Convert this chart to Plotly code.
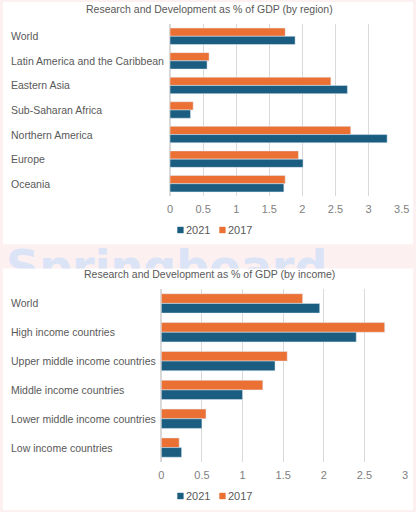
import plotly.graph_objects as go

# ---------------- data ----------------
region_categories = ["World", "Latin America and the Caribbean", "Eastern Asia",
                     "Sub-Saharan Africa", "Northern America", "Europe", "Oceania"]
region_2021 = [1.89, 0.56, 2.68, 0.31, 3.28, 2.01, 1.72]
region_2017 = [1.74, 0.59, 2.43, 0.35, 2.73, 1.94, 1.74]

income_categories = ["World", "High income countries", "Upper middle income countries",
                     "Middle income countries", "Lower middle income countries",
                     "Low income countries"]
income_2021 = [1.95, 2.40, 1.40, 1.00, 0.50, 0.25]
income_2017 = [1.74, 2.75, 1.55, 1.25, 0.55, 0.22]

series_names = ["2021", "2017"]
region_ticks = [0, 0.5, 1, 1.5, 2, 2.5, 3, 3.5]
income_ticks = [0, 0.5, 1, 1.5, 2, 2.5, 3]

title_region = "Research and Development as % of GDP (by region)"
title_income = "Research and Development as % of GDP (by income)"
watermark = "Springboard"

# ---------------- style ----------------
W, H = 416, 512
BLUE = "#1a5d80"
ORANGE = "#ea7034"
GRID = "#d9d9d9"
PINK = "#fcf0f1"
FONT = "Liberation Sans, Arial, sans-serif"

def px(x):
    return x / W

def py(y):
    return 1 - y / H

fig = go.Figure()

# bars: 2017 first so it sits on top within each group (reversed category axis)
fig.add_trace(go.Bar(y=region_categories, x=region_2017, name=series_names[1], orientation="h",
                     marker_color=ORANGE, xaxis="x", yaxis="y", showlegend=False))
fig.add_trace(go.Bar(y=region_categories, x=region_2021, name=series_names[0], orientation="h",
                     marker_color=BLUE, xaxis="x", yaxis="y", showlegend=False))
fig.add_trace(go.Bar(y=income_categories, x=income_2017, name=series_names[1], orientation="h",
                     marker_color=ORANGE, xaxis="x2", yaxis="y2", showlegend=False))
fig.add_trace(go.Bar(y=income_categories, x=income_2021, name=series_names[0], orientation="h",
                     marker_color=BLUE, xaxis="x2", yaxis="y2", showlegend=False))

# watermark, clipped to the gap between the two panels
fig.add_trace(go.Scatter(x=[6], y=[248], mode="text", text=[watermark], textposition="bottom right",
                         textfont=dict(family="DejaVu Sans", size=46, color="#dbe3f7", weight="bold"),
                         cliponaxis=True, xaxis="x3", yaxis="y3", showlegend=False,
                         hoverinfo="skip"))

axis_common = dict(showgrid=True, gridcolor=GRID, gridwidth=1, zeroline=True, zerolinecolor=GRID,
                   showline=False, ticks="", ticklabelstandoff=5, automargin=False,
                   tickfont=dict(family=FONT, size=11, color="#808080"),
                   fixedrange=True)
hidden_y = dict(showticklabels=False, showgrid=False, zeroline=False, automargin=False,
                fixedrange=True)

fig.update_layout(
    width=W, height=H, margin=dict(l=0, r=0, t=0, b=0, pad=0), autosize=False,
    paper_bgcolor=PINK, plot_bgcolor="rgba(0,0,0,0)",
    barmode="group", bargap=0.33, bargroupgap=0,
    font=dict(family=FONT, size=11, color="#595959"),
    showlegend=False,
    xaxis=dict(domain=[px(170), px(401.7)], range=[0, 3.5], tickvals=region_ticks,
               anchor="y", **axis_common),
    yaxis=dict(domain=[py(196), py(24)], range=[len(region_categories) - 0.5, -0.5],
               anchor="x", **hidden_y),
    xaxis2=dict(domain=[px(161.3), px(405)], range=[0, 3], tickvals=income_ticks,
                anchor="y2", **axis_common),
    yaxis2=dict(domain=[py(462), py(289)], range=[len(income_categories) - 0.5, -0.5],
                anchor="x2", **hidden_y),
    xaxis3=dict(domain=[0, 1], range=[0, W], visible=False, anchor="y3", fixedrange=True,
                automargin=False),
    yaxis3=dict(domain=[py(268.5), py(244.3)], range=[268.5, 244.3], visible=False, anchor="x3",
                fixedrange=True, automargin=False),
)

shapes = [
    dict(type="rect", xref="paper", yref="paper", x0=px(3), x1=px(413), y0=py(244.3), y1=py(2),
         fillcolor="white", line_width=0, layer="below"),
    dict(type="rect", xref="paper", yref="paper", x0=px(3), x1=px(413), y0=py(510), y1=py(268.5),
         fillcolor="white", line_width=0, layer="below"),
]
annotations = []

# titles
for t, y in [(title_region, 9), (title_income, 274)]:
    annotations.append(dict(text=t, xref="paper", yref="paper", x=px(209), y=py(y),
                            xanchor="center", yanchor="middle", showarrow=False,
                            font=dict(family=FONT, size=10.5, color="#595959")))

# left-aligned category labels
for cats, yref in [(region_categories, "y"), (income_categories, "y2")]:
    for c in cats:
        annotations.append(dict(text=c, xref="paper", yref=yref, x=px(9), y=c,
                                xanchor="left", yanchor="middle", showarrow=False,
                                font=dict(family=FONT, size=10.5, color="#595959")))

# legends
for ly in [230, 496]:
    for (name, color, sx) in [(series_names[0], BLUE, 177.3), (series_names[1], ORANGE, 219.3)]:
        shapes.append(dict(type="rect", xref="paper", yref="paper", x0=px(sx), x1=px(sx + 6.3),
                           y0=py(ly + 3.2), y1=py(ly - 3.2), fillcolor=color, line_width=0))
        annotations.append(dict(text=name, xref="paper", yref="paper", x=px(sx + 6.8), y=py(ly),
                                xanchor="left", yanchor="middle", showarrow=False,
                                font=dict(family=FONT, size=11, color="#595959")))

fig.update_layout(shapes=shapes, annotations=annotations)

fig.write_html("out.html")
